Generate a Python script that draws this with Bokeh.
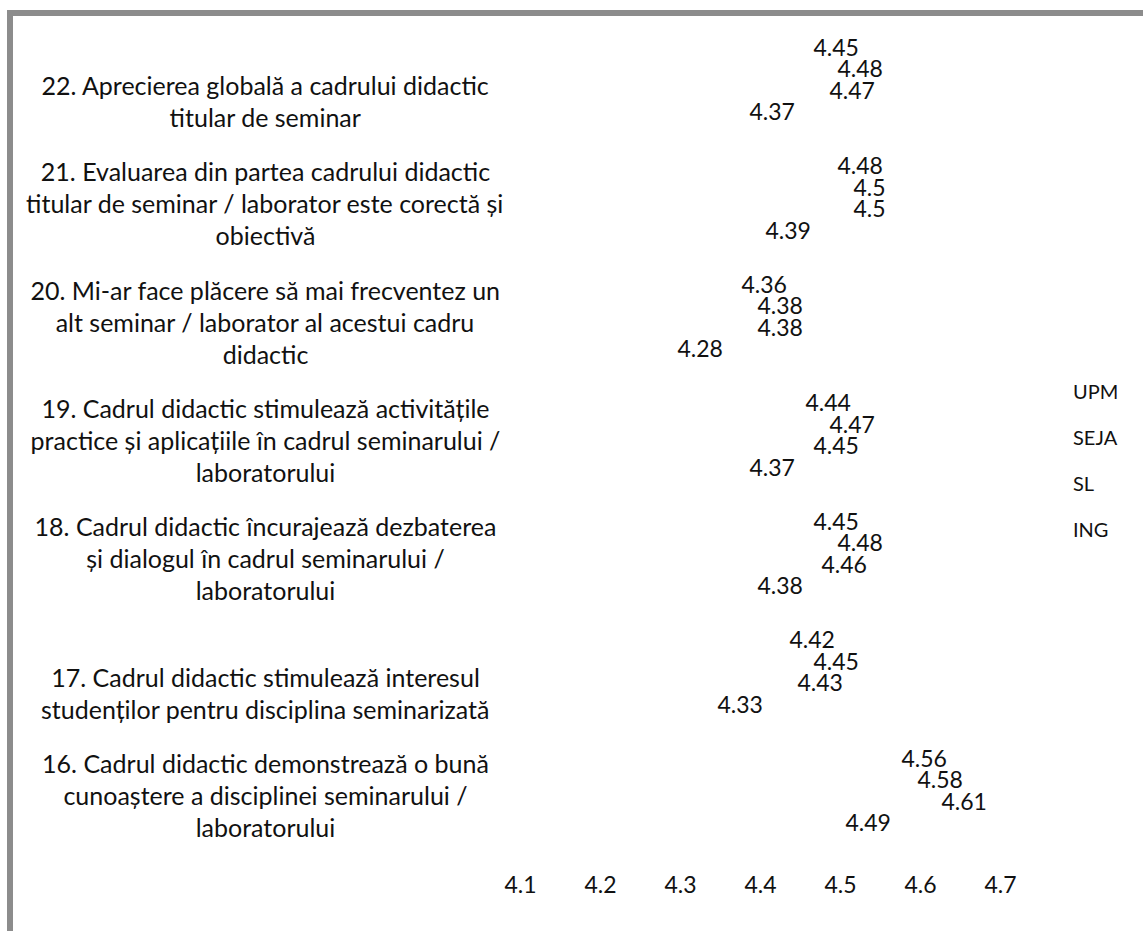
from bokeh.plotting import figure
from bokeh.models import (FactorRange, Range1d, ColumnDataSource, FixedTicker,
                          Legend, LegendItem, Spacer)
from bokeh.layouts import row, column
from bokeh.transform import dodge
from bokeh.core.properties import value
from bokeh.embed import file_html
from bokeh.resources import INLINE

# ---- data ----
categories = ["16", "17", "18", "19", "20", "21", "22"]
cat_labels = [
    "16. Cadrul didactic demonstrează o bună\ncunoaștere a disciplinei seminarului /\nlaboratorului",
    "\n17. Cadrul didactic stimulează interesul\nstudenților pentru disciplina seminarizată",
    "18. Cadrul didactic încurajează dezbaterea\nși dialogul în cadrul seminarului /\nlaboratorului",
    "19. Cadrul didactic stimulează activitățile\npractice și aplicațiile în cadrul seminarului /\nlaboratorului",
    "20. Mi-ar face plăcere să mai frecventez un\nalt seminar / laborator al acestui cadru\ndidactic",
    "21. Evaluarea din partea cadrului didactic\ntitular de seminar / laborator este corectă și\nobiectivă",
    "\n22. Aprecierea globală a cadrului didactic\ntitular de seminar",
]
series_names = ["UPM", "SEJA", "SL", "ING"]
upm = [4.56, 4.42, 4.45, 4.44, 4.36, 4.48, 4.45]
seja = [4.58, 4.45, 4.48, 4.47, 4.38, 4.50, 4.48]
sl = [4.61, 4.43, 4.46, 4.45, 4.38, 4.50, 4.47]
ing = [4.49, 4.33, 4.38, 4.37, 4.28, 4.39, 4.37]
tick_values = [4.1, 4.2, 4.3, 4.4, 4.5, 4.6, 4.7]
axis_min = 4.1

FONT = "Lato"
TXT = "#111111"
GRAY = "#8c8c8c"

data = dict(cat=categories, label=cat_labels,
            UPM=upm, SEJA=seja, SL=sl, ING=ing)
for name in series_names:
    data[name + "_txt"] = [f"{v:g}" for v in data[name]]
data["lx"] = [3.78125] * len(categories)
src = ColumnDataSource(data)

p = figure(width=1130, height=915,
           y_range=FactorRange(factors=categories, range_padding=0),
           x_range=Range1d(3.46625, 4.87875),
           output_backend="svg", toolbar_location=None,
           y_axis_location=None,
           min_border_left=0, min_border_right=0,
           min_border_top=4, min_border_bottom=82)
p.outline_line_color = None
p.background_fill_color = "white"
p.border_fill_color = "white"
p.xgrid.visible = False
p.ygrid.visible = False

ax = p.xaxis[0]
ax.ticker = FixedTicker(ticks=tick_values)
ax.axis_line_color = None
ax.major_tick_line_color = None
ax.minor_tick_line_color = None
ax.major_label_text_font = FONT
ax.major_label_text_font_size = "23px"
ax.major_label_text_color = TXT
ax.major_label_standoff = 20

offsets = [0.272, 0.091, -0.091, -0.272]
renderers = []
for name, off in zip(series_names, offsets):
    ypos = dodge("cat", off, range=p.y_range)
    r = p.hbar(y=ypos, left=axis_min, right=name, height=0.16, source=src,
               fill_color="white", fill_alpha=0, line_alpha=0)
    renderers.append(r)
    p.text(x=name, y=ypos, text=name + "_txt", source=src,
           x_offset=13, text_align="left", text_baseline="middle",
           text_font=value(FONT), text_font_size="23px", text_color=TXT)

p.text(x="lx", y="cat", text="label", source=src, y_offset=5,
       text_align="center", text_baseline="middle", text_line_height=1.067,
       text_font=value(FONT), text_font_size="25px", text_color=TXT)

legend = Legend(items=[LegendItem(label=n, renderers=[r]) for n, r in zip(series_names, renderers)],
                location=(1059, 308), glyph_width=1, glyph_height=20,
                label_height=20, label_standoff=0, spacing=22, padding=0, margin=0,
                border_line_alpha=0, background_fill_alpha=0,
                label_text_font=FONT, label_text_font_size="20px",
                label_text_color=TXT)
p.add_layout(legend)

# chart-area border (gray strips on left and top)
top_strip = row(Spacer(width=7, height=6),
                Spacer(width=1136, height=6, styles={"background-color": GRAY}))
main_row = row(Spacer(width=7, height=915),
               Spacer(width=6, height=915, styles={"background-color": GRAY}),
               p)
layout = column(Spacer(width=1143, height=10), top_strip, main_row)

open("out.html", "w").write(file_html(layout, INLINE))
